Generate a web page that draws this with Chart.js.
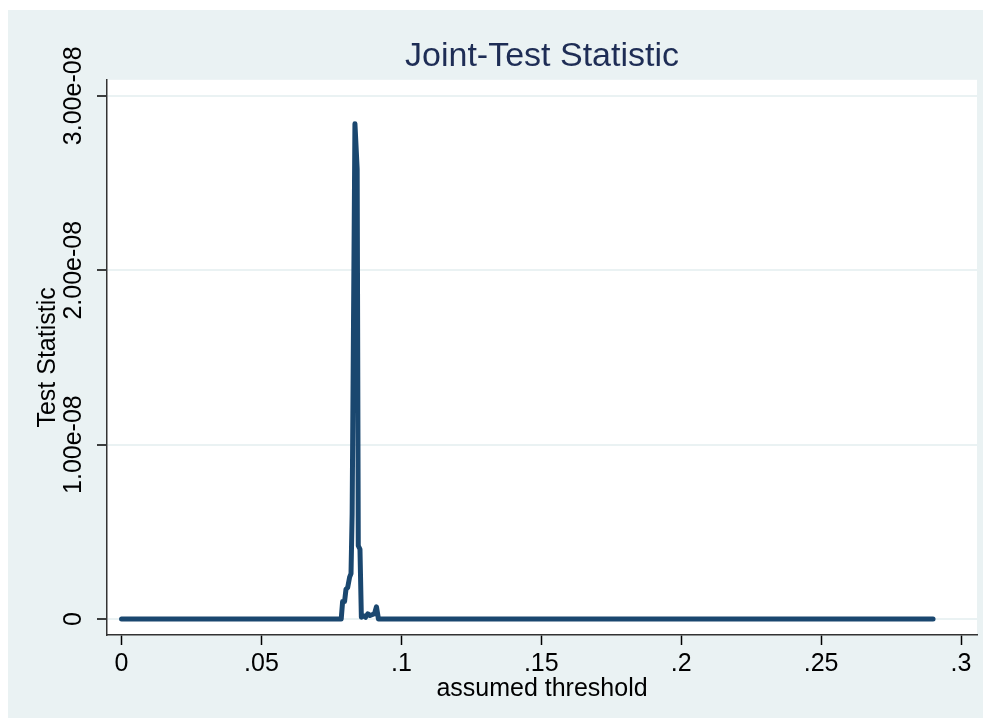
<!DOCTYPE html>
<html>
<head>
<meta charset="utf-8">
<script src="https://cdn.jsdelivr.net/npm/chart.js@4.4.1/dist/chart.umd.min.js"></script>
<style>
html,body{margin:0;padding:0;background:#fff;}
#wrap{width:990px;height:727px;}
</style>
</head>
<body>
<div id="wrap"><canvas id="testChart" width="990" height="727"></canvas></div>
<script>
// Joint-test statistic by assumed threshold

const thresholds=[0,0.01,0.02,0.03,0.04,0.05,0.06,0.07,0.078,
0.0785,0.0790,0.0797,0.0802,0.0808,0.0815,0.0820,0.0824,0.0834,0.0842,0.0846,0.0852,0.0857,
0.0863,0.0872,0.0880,0.0888,0.0904,0.0911,0.0918,0.0925,
0.1,0.11,0.12,0.13,0.14,0.15,0.16,0.17,0.18,0.19,0.2,0.21,0.22,0.23,0.24,0.25,0.26,0.27,0.28,0.29];

const testStat=[0,0,0,0,0,0,0,0,0,
0,0.10e-8,0.10e-8,0.17e-8,0.18e-8,0.24e-8,0.26e-8,0.60e-8,2.84e-8,2.58e-8,0.42e-8,0.40e-8,0.01e-8,
0.02e-8,0.01e-8,0.03e-8,0.02e-8,0.03e-8,0.07e-8,0,0,
0,0,0,0,0,0,0,0,0,0,0,0,0,0,0,0,0,0,0,0];

const xTicks=[0,0.05,0.1,0.15,0.2,0.25,0.3];
const xTickLabels=['0','.05','.1','.15','.2','.25','.3'];
const yTicks=[0,1e-8,2e-8,3e-8];
const yTickLabels=['0','1.00e-08','2.00e-08','3.00e-08'];

const fontFamily="'Liberation Sans', Arial, sans-serif";

const frame={
id:'frame',
beforeDraw(chart){
const ctx=chart.ctx;
const a=chart.chartArea;
ctx.save();
ctx.fillStyle='#ffffff';
ctx.fillRect(0,0,chart.width,chart.height);
ctx.fillStyle='#eaf2f3';
ctx.fillRect(8,10,975,708);
ctx.fillStyle='#ffffff';
ctx.fillRect(a.left,a.top,a.right-a.left,a.bottom-a.top);
ctx.restore();
},
afterDraw(chart){
// rotated y tick labels, as in the original
const ctx=chart.ctx;
const y=chart.scales.y;
ctx.save();
ctx.font='25px '+fontFamily;
ctx.fillStyle='#000';
ctx.textAlign='center';
ctx.textBaseline='middle';
yTicks.forEach((v,i)=>{
ctx.save();
ctx.translate(74,y.getPixelForValue(v));
ctx.rotate(-Math.PI/2);
ctx.fillText(yTickLabels[i],0,0);
ctx.restore();
});
ctx.restore();
}
};

const testChart=document.getElementById("testChart");

if(testChart){

new Chart(testChart,{

type:'line',

data:{
datasets:[{
label:'Test Statistic',
data:thresholds.map((t,i)=>({x:t,y:testStat[i]})),
borderColor:'#1a476f',
borderWidth:5,
borderCapStyle:'round',
borderJoinStyle:'round',
pointRadius:0,
tension:0,
fill:false
}]
},

options:{
responsive:false,
animation:false,
layout:{padding:{left:0,right:13,top:0,bottom:0}},
plugins:{
legend:{display:false},
tooltip:{enabled:false},
title:{
display:true,
text:'Joint-Test Statistic',
color:'#1e2d55',
fullSize:false,
font:{family:fontFamily,size:34,weight:'normal'},
padding:{top:36,bottom:3}
}
},
scales:{
x:{
type:'linear',
min:-0.0052,
max:0.3057,
afterBuildTicks(scale){scale.ticks=xTicks.map(v=>({value:v}));},
afterFit(scale){scale.height=92;},
ticks:{
color:'#000',
padding:4,
maxRotation:0,
font:{family:fontFamily,size:25},
callback:(v,i)=>xTickLabels[i]
},
grid:{drawOnChartArea:false,tickColor:'#000',tickLength:10,tickWidth:1.5},
border:{display:true,color:'#333',width:1.5},
title:{
display:true,
text:'assumed threshold',
color:'#000',
font:{family:fontFamily,size:25},
padding:{top:0,bottom:23}
}
},
y:{
type:'linear',
min:-0.0917e-8,
max:3.0917e-8,
afterBuildTicks(scale){scale.ticks=yTicks.map(v=>({value:v}));},
afterFit(scale){scale.width=107;},
ticks:{display:false},
grid:{color:'#eaf2f3',lineWidth:2,tickColor:'#000',tickLength:10,tickWidth:1.5},
border:{display:true,color:'#333',width:1.5},
title:{
display:true,
text:'Test Statistic',
color:'#000',
font:{family:fontFamily,size:25},
padding:{top:33,bottom:0}
}
}
}
},

plugins:[frame]

});

}
</script>
</body>
</html>
